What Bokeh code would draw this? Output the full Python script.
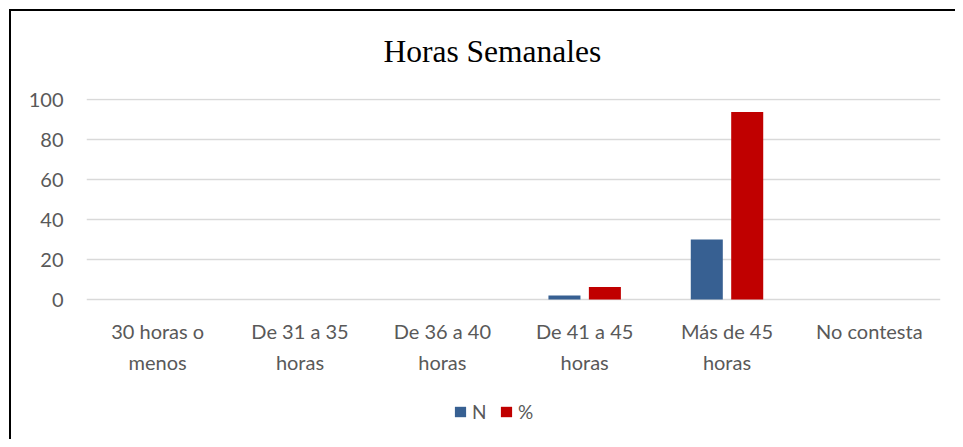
from bokeh.plotting import figure
from bokeh.models import (FactorRange, Legend, LegendItem, FixedTicker, ColumnDataSource,
                          LabelSet, Title, Range1d)
from bokeh.core.properties import value
from bokeh.transform import dodge
from bokeh.embed import file_html
from bokeh.resources import INLINE

categories = ["30 horas o menos", "De 31 a 35 horas", "De 36 a 40 horas",
              "De 41 a 45 horas", "Más de 45 horas", "No contesta"]
label_line1 = ["30 horas o", "De 31 a 35", "De 36 a 40", "De 41 a 45", "Más de 45", "No contesta"]
label_line2 = ["menos", "horas", "horas", "horas", "horas", ""]
n_values = [0, 0, 0, 2, 30, 0]
pct_values = [0, 0, 0, 6.25, 93.75, 0]
y_ticks = [0, 20, 40, 60, 80, 100]
title_text = "Horas Semanales"

source = ColumnDataSource(data=dict(cat=categories, n=n_values, pct=pct_values,
                                    l1=label_line1, l2=label_line2,
                                    y1=[-15.5] * 6, y2=[-31] * 6))

p = figure(x_range=FactorRange(*categories, range_padding=0), y_range=Range1d(-70, 100.5),
           width=955, height=439, output_backend="svg", toolbar_location=None,
           x_axis_location=None,
           min_border_left=86, min_border_right=15, min_border_top=98, min_border_bottom=0)
p.border_fill_color = None
p.styles = {"box-shadow": "inset 9px 9px 0 0 white, inset 11px 11px 0 0 black"}

r1 = p.vbar(x=dodge("cat", -0.142, range=p.x_range), top="n", bottom=0, width=0.225,
            source=source, fill_color="#376092", line_color=None)
r2 = p.vbar(x=dodge("cat", 0.142, range=p.x_range), top="pct", bottom=0, width=0.225,
            source=source, fill_color="#C00000", line_color=None)

p.title = Title(text=title_text, align="left", offset=297, standoff=59,
                text_font="Liberation Serif", text_font_size="31.5px",
                text_font_style="normal", text_color="black")

p.outline_line_color = None
p.xgrid.grid_line_color = None
p.ygrid.grid_line_color = "#D9D9D9"
p.ygrid.grid_line_width = 1.5
p.yaxis.ticker = FixedTicker(ticks=y_ticks)
p.yaxis.axis_line_color = None
p.yaxis.major_tick_line_color = None
p.yaxis.minor_tick_line_color = None
p.yaxis.major_tick_out = 0
p.yaxis.major_label_text_font = "Lato"
p.yaxis.major_label_text_font_size = "20px"
p.yaxis.major_label_text_color = "#595959"
p.yaxis.major_label_standoff = 23

for col, ycol in (("l1", "y1"), ("l2", "y2")):
    p.add_layout(LabelSet(x="cat", y=ycol, text=col, source=source, text_align="center",
                          text_baseline="middle", text_font=value("Lato"),
                          text_font_size=value("20px"), text_color="#595959"))

legend = Legend(items=[LegendItem(label="N", renderers=[r1]),
                       LegendItem(label="%", renderers=[r2])],
                orientation="horizontal", location=(367, 16),
                label_text_font="Lato", label_text_font_size="19px",
                label_text_color="#595959", glyph_width=14, glyph_height=13,
                label_standoff=5, spacing=7, border_line_color=None,
                background_fill_alpha=0, margin=0, padding=0)
p.add_layout(legend, "center")

open("out.html", "w").write(file_html(p, INLINE))
